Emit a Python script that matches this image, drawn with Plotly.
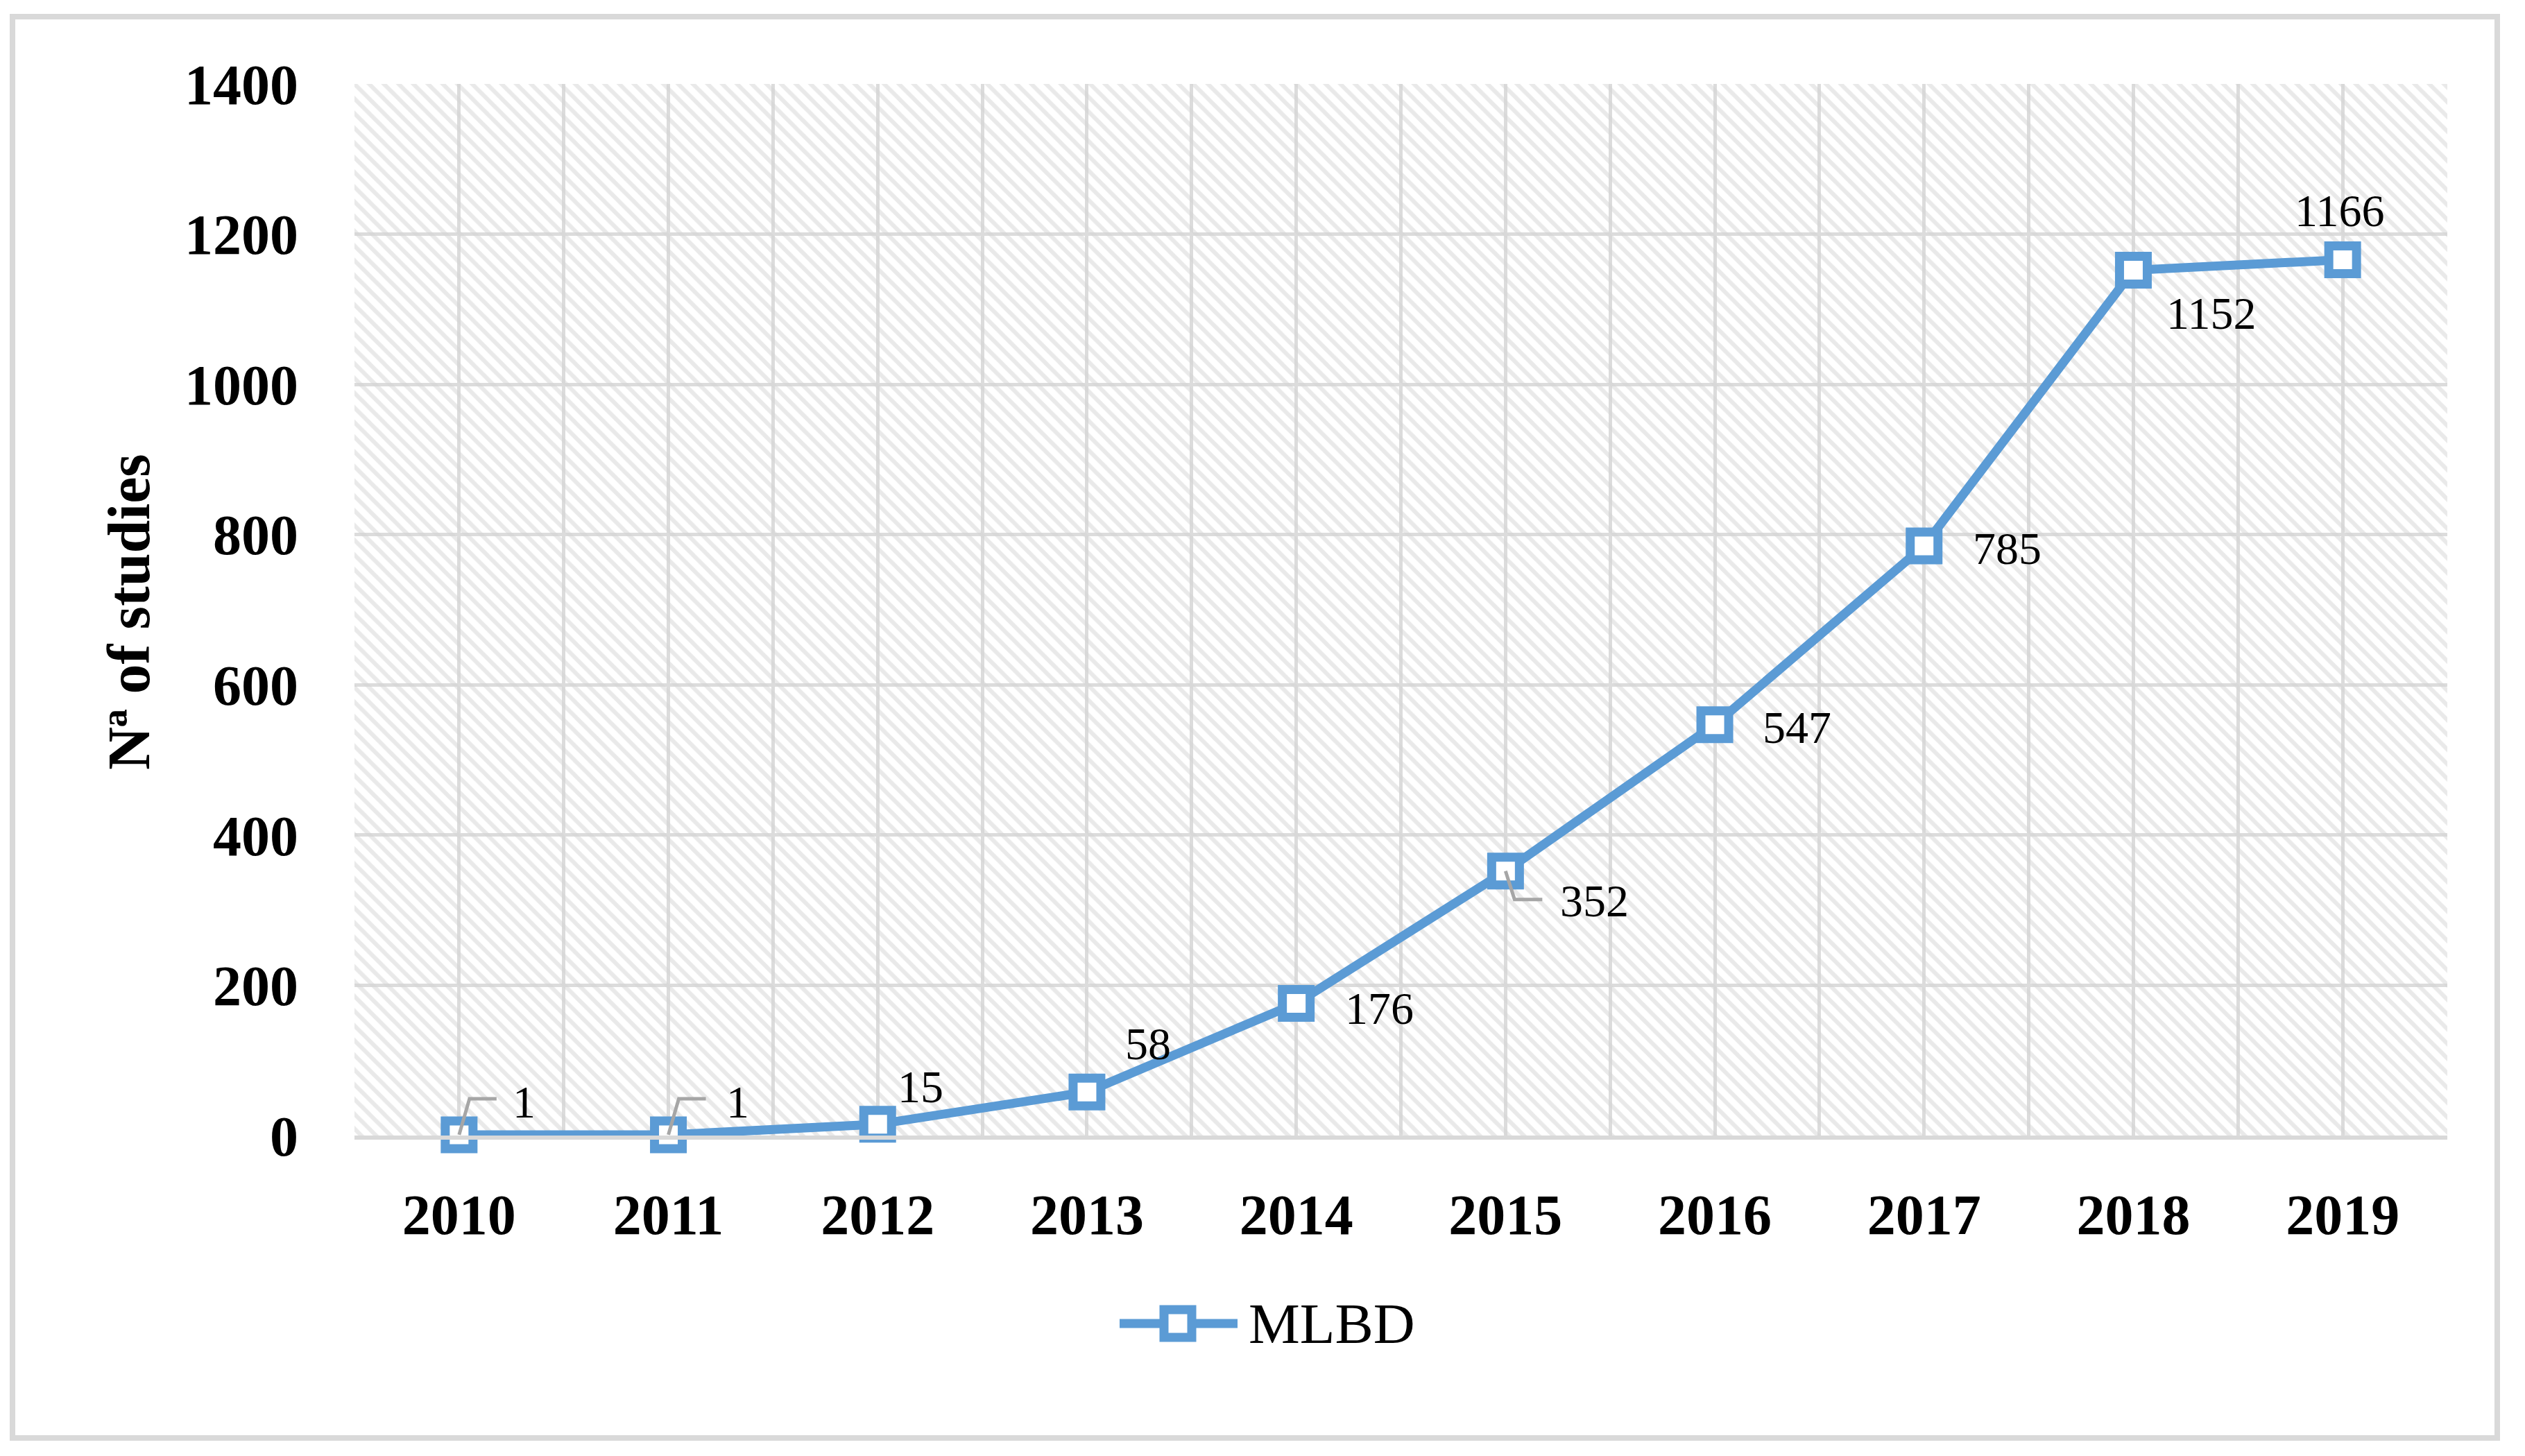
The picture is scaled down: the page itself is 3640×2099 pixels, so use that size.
import plotly.graph_objects as go

# ---------------- data ----------------
years = [2010, 2011, 2012, 2013, 2014, 2015, 2016, 2017, 2018, 2019]
studies = [1, 1, 15, 58, 176, 352, 547, 785, 1152, 1166]
series_name = "MLBD"
y_title = "Nª of studies"
y_tick_values = [0, 200, 400, 600, 800, 1000, 1200, 1400]

# ---------------- style ----------------
OFF = 8                                   # default page body margin
FIG_W, FIG_H = 3640 - 2 * OFF, 2099 - 2 * OFF
PL, PR, PT, PB = 511 - OFF, 3528 - OFF, 121 - OFF, 1637 - OFF   # plot area px
PW, PH = PR - PL, PB - PT
BLUE = "#5b9bd5"
GRID = "#dcdcdc"
FONT = "Liberation Serif"

# data-label offsets in px (dx right, dy down) relative to each point
label_dx = [94, 100, 62, 88, 120, 128, 118, 120, 113, -4]
label_dy = [-47, -47, -54, -70, 7, 43, 4, 4, 62, -71]
# bent leader lines (screen px: dx right, dy down) for some labels
leader_paths = [
    [(15, -52), (54, -52)],
    [(15, -52), (54, -52)],
    None, None, None,
    [(13, 41), (53, 41)],
    None, None, None, None,
]


def px2x(px):
    return (px - OFF - PL) / PW


def py2y(py):
    return (PB - (py - OFF)) / PH


x_lo, x_hi = years[0] - 0.5, years[-1] + 0.5
y_lo, y_hi = y_tick_values[0], y_tick_values[-1]

fig = go.Figure()

# hatched plot background
fig.add_trace(go.Scatter(
    x=[x_lo, x_hi, x_hi, x_lo, x_lo], y=[y_lo, y_lo, y_hi, y_hi, y_lo],
    mode="none", fill="toself", fillcolor="rgba(0,0,0,0)",
    fillpattern=dict(shape="\\", fgcolor="#d4d4d4", bgcolor="rgba(0,0,0,0)",
                     size=15, solidity=0.4),
    hoverinfo="skip", showlegend=False))

# data series
fig.add_trace(go.Scatter(
    x=years, y=studies, name=series_name, mode="lines+markers",
    line=dict(color=BLUE, width=13),
    marker=dict(symbol="square", size=40, color="white",
                line=dict(color=BLUE, width=13)),
    cliponaxis=False, showlegend=False))

annotations = []
shapes = []
for yr, v, dx, dy, lp in zip(years, studies, label_dx, label_dy, leader_paths):
    annotations.append(dict(
        x=yr, y=v, xref="x", yref="y", text=str(v), showarrow=False,
        xshift=dx, yshift=-dy,
        font=dict(family=FONT, size=66, color="black")))
    if lp:
        path = "M 0,0 " + " ".join(f"L {px},{-py}" for px, py in lp)
        shapes.append(dict(
            type="path", xref="x", yref="y",
            xsizemode="pixel", ysizemode="pixel", xanchor=yr, yanchor=v,
            path=path, line=dict(color="#a6a6a6", width=5),
            fillcolor="rgba(0,0,0,0)"))

# y-axis title
annotations.append(dict(
    x=px2x(186), y=py2y(882), xref="paper", yref="paper", text=y_title,
    textangle=-90, showarrow=False, xanchor="center", yanchor="middle",
    font=dict(family=FONT, size=86, color="black", weight="bold")))

# legend text
annotations.append(dict(
    x=px2x(1798), y=py2y(1908), xref="paper", yref="paper", text=series_name,
    showarrow=False, xanchor="left", yanchor="middle",
    font=dict(family=FONT, size=83, color="black")))

shapes += [
    # outer chart border
    dict(type="rect", xref="paper", yref="paper",
         x0=px2x(18), x1=px2x(3600), y0=py2y(2073), y1=py2y(24),
         line=dict(color="#d9d9d9", width=8), fillcolor="rgba(0,0,0,0)",
         layer="below"),
    # legend line
    dict(type="line", xref="paper", yref="paper",
         x0=px2x(1614), x1=px2x(1784), y0=py2y(1908), y1=py2y(1908),
         line=dict(color=BLUE, width=13)),
    # legend marker
    dict(type="rect", xref="paper", yref="paper",
         x0=px2x(1678), x1=px2x(1718), y0=py2y(1928), y1=py2y(1888),
         line=dict(color=BLUE, width=13), fillcolor="white"),
]

minor_vals = [y - 0.5 for y in years] + [years[-1] + 0.5]

fig.update_layout(
    width=FIG_W, height=FIG_H,
    margin=dict(l=PL, r=FIG_W - PR, t=PT, b=FIG_H - PB, pad=0),
    paper_bgcolor="white", plot_bgcolor="white",
    showlegend=False,
    annotations=annotations, shapes=shapes,
    xaxis=dict(
        range=[x_lo, x_hi], tickmode="array", tickvals=years,
        ticktext=[str(y) for y in years],
        showgrid=True, gridcolor=GRID, gridwidth=5,
        minor=dict(tickmode="array", tickvals=minor_vals, showgrid=True,
                   gridcolor=GRID, gridwidth=5),
        showline=True, linecolor="#d9d9d9", linewidth=6,
        zeroline=False, ticks="", ticklabelstandoff=38,
        tickfont=dict(family=FONT, size=82, color="black", weight="bold"),
        fixedrange=True),
    yaxis=dict(
        range=[y_lo, y_hi], tickmode="array", tickvals=y_tick_values,
        showgrid=True, gridcolor=GRID, gridwidth=5,
        zeroline=False, showline=False, ticks="", ticklabelstandoff=80,
        tickfont=dict(family=FONT, size=82, color="black", weight="bold"),
        fixedrange=True),
)

fig.write_html("out.html")
